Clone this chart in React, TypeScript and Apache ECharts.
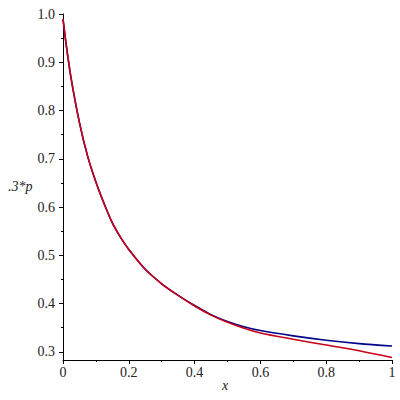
import React, { useEffect, useRef } from "react";
import * as echarts from "echarts";

const xValues = [0, 0.01, 0.025, 0.05, 0.075, 0.1, 0.125, 0.15, 0.175, 0.2, 0.25, 0.3, 0.35, 0.4, 0.45, 0.5, 0.55, 0.6, 0.7, 0.8, 0.9, 1.0];
const blueValues = [0.99, 0.935, 0.865, 0.775, 0.705, 0.652, 0.607, 0.567, 0.537, 0.512, 0.471, 0.441, 0.417, 0.396, 0.377, 0.363, 0.352, 0.344, 0.333, 0.324, 0.317, 0.312];
const redValues = [0.99, 0.935, 0.865, 0.775, 0.705, 0.652, 0.607, 0.567, 0.537, 0.512, 0.471, 0.441, 0.417, 0.395, 0.376, 0.361, 0.349, 0.339, 0.326, 0.314, 0.302, 0.288];
const yMajorTicks = [0.3, 0.4, 0.5, 0.6, 0.7, 0.8, 0.9, 1.0];
const yMinorTicks = [0.35, 0.45, 0.55, 0.65, 0.75, 0.85, 0.95];
const yAxisTitle = ".3*p";
const xAxisTitle = "x";

const FONT = "Liberation Serif";

export default function App() {
  const ref = useRef<HTMLDivElement>(null);
  useEffect(() => {
    if (!ref.current) return;
    const chart = echarts.init(ref.current, undefined, { renderer: "svg" });
    const pairs = (ys: number[]) => xValues.map((x, i) => [x, ys[i]]);
    chart.setOption({
      animation: false,
      backgroundColor: "#ffffff",
      grid: { left: 63, right: 8, top: 14, bottom: 40 },
      xAxis: {
        type: "value",
        min: 0,
        max: 1,
        interval: 0.2,
        axisLine: { show: true, lineStyle: { color: "#000", width: 1 } },
        axisTick: { show: true, length: 4, lineStyle: { color: "#000" } },
        minorTick: { show: true, splitNumber: 2, length: 2, lineStyle: { color: "#000" } },
        splitLine: { show: false },
        axisLabel: {
          color: "#222",
          fontFamily: FONT,
          fontSize: 14,
          margin: 5,
          formatter: (v: number) => (v === 0 ? "0" : v === 1 ? "1" : v.toFixed(1)),
        },
      },
      yAxis: [
        {
          type: "value",
          min: 0.283,
          max: 1.0,
          axisLine: { show: true, onZero: false, lineStyle: { color: "#000", width: 1 } },
          axisTick: { show: true, length: 4, customValues: yMajorTicks, lineStyle: { color: "#000" } },
          splitLine: { show: false },
          axisLabel: {
            color: "#222",
            fontFamily: FONT,
            fontSize: 14,
            margin: 8,
            customValues: yMajorTicks,
            formatter: (v: number) => v.toFixed(1),
          },
        },
        {
          type: "value",
          min: 0.283,
          max: 1.0,
          position: "left",
          axisLine: { show: false },
          axisTick: { show: true, length: 2, customValues: yMinorTicks, lineStyle: { color: "#000" } },
          splitLine: { show: false },
          axisLabel: { show: false },
        },
      ],
      graphic: [
        {
          type: "text",
          left: 8,
          top: 179,
          style: { text: yAxisTitle, fontFamily: FONT, fontStyle: "italic", fontSize: 14, fill: "#222" },
        },
        {
          type: "text",
          left: 222,
          top: 378,
          style: { text: xAxisTitle, fontFamily: FONT, fontStyle: "italic", fontSize: 14, fill: "#222" },
        },
      ],
      series: [
        {
          type: "line",
          yAxisIndex: 0,
          data: pairs(blueValues),
          smooth: 0.3,
          showSymbol: false,
          lineStyle: { color: "#000088", width: 1.6 },
        },
        {
          type: "line",
          yAxisIndex: 0,
          data: pairs(redValues),
          smooth: 0.3,
          showSymbol: false,
          lineStyle: { color: "#c80014", width: 1.6 },
        },
      ],
    });
    return () => chart.dispose();
  }, []);
  return <div ref={ref} style={{ position: "fixed", left: 0, top: 0, width: 400, height: 400 }} />;
}
